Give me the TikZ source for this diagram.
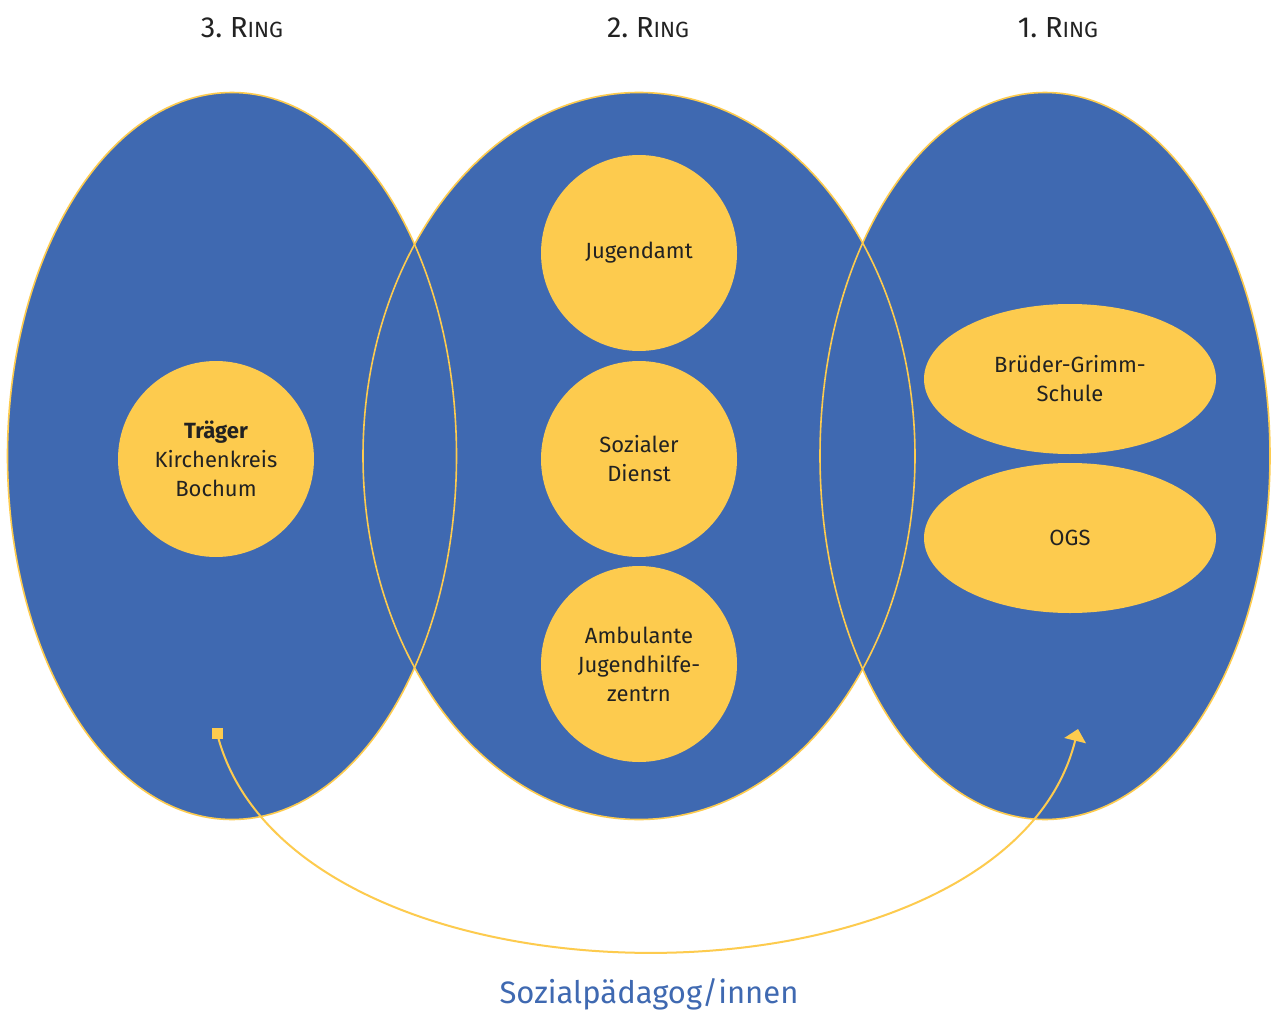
\documentclass[tikz,border=0pt]{standalone}
\usepackage{fontspec}
\setmainfont{Fira Sans}
\usetikzlibrary{shapes.geometric,arrows.meta}
\definecolor{ringblue}{HTML}{3F69B1}
\definecolor{ringyellow}{HTML}{FDCB4E}
\definecolor{txt}{HTML}{222222}
\tikzset{
  ring/.style={ellipse,fill=ringblue,inner sep=0pt},
  ringline/.style={ellipse,draw=ringyellow,line width=0.8pt,inner sep=0pt},
  member/.style={circle,fill=ringyellow,inner sep=0pt,minimum size=98pt,align=center,text=txt,font=\fontsize{11}{14.5}\selectfont},
  oval/.style={ellipse,fill=ringyellow,inner sep=0pt,minimum width=146pt,minimum height=75pt,align=center,text=txt,font=\fontsize{11}{14.5}\selectfont},
  title/.style={text=txt,font=\fontsize{14.5}{16}\selectfont},
  link/.style={draw=ringyellow,line width=1pt}
}
\newcommand{\ringtitle}[1]{#1.~R{\fontsize{11}{12}\selectfont ING}}
\begin{document}
\begin{tikzpicture}[x=0.5pt,y=-0.5pt]
\useasboundingbox[fill=white] (0,0) rectangle (1275,1012);
% rings fill
\node[ring,minimum width=224.5pt,minimum height=363.5pt] (r3) at (232,456) {};
\node[ring,minimum width=276pt,minimum height=363.5pt] (r2) at (639,456) {};
\node[ring,minimum width=225pt,minimum height=363.5pt] (r1) at (1045,456) {};
% ring outlines
\node[ringline,minimum width=224.5pt,minimum height=363.5pt] (r3o) at (232,456) {};
\node[ringline,minimum width=276pt,minimum height=363.5pt] (r2o) at (639,456) {};
\node[ringline,minimum width=225pt,minimum height=363.5pt] (r1o) at (1045,456) {};
% titles
\node[title] (t3) at (242,28) {\ringtitle{3}};
\node[title] (t2) at (648,28) {\ringtitle{2}};
\node[title] (t1) at (1058,28) {\ringtitle{1}};
% members
\node[member] (traeger) at (216,459) {\textbf{Träger}\\Kirchenkreis\\Bochum};
\node[member] (jugendamt) at (639,253) {Jugendamt};
\node[member] (sozial) at (639,459) {Sozialer\\Dienst};
\node[member] (ambulant) at (639,664) {Ambulante\\Jugendhilfe-\\zentrn};
\node[oval] (bgs) at (1070,379) {Brüder-Grimm-\\Schule};
\node[oval] (ogs) at (1070,538) {OGS};
% connector
\coordinate (start) at (217,733);
\coordinate (end) at (1078,729);
\node[rectangle,fill=ringyellow,minimum size=5.5pt,inner sep=0pt] (sq) at (start) {};
\draw[link,-{Triangle[width=11pt,length=6pt]}] (start) .. controls (290,1025) and (1005,1025) .. (end);
\node[text=ringblue,font=\fontsize{15.5}{17}\selectfont,inner sep=0pt] (sp) at (649,994) {Sozialpädagog/innen};
\end{tikzpicture}
\end{document}
